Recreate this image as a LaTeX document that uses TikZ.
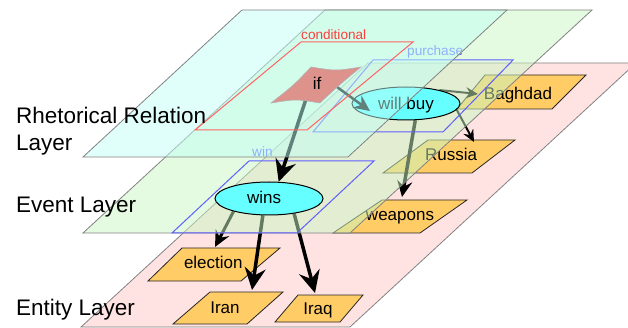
\documentclass[tikz,border=0pt]{standalone}
\usepackage{fontspec}
\setmainfont{Liberation Sans}
\usetikzlibrary{arrows.meta,calc,shapes.geometric}
\definecolor{cyanL}{RGB}{193,255,247}
\definecolor{greenL}{RGB}{201,247,195}
\definecolor{pinkL}{RGB}{255,227,227}
\definecolor{layerE}{RGB}{130,130,130}
\definecolor{orangeN}{RGB}{255,204,102}
\definecolor{evtN}{RGB}{102,255,255}
\definecolor{ifN}{RGB}{222,146,140}
\definecolor{relR}{RGB}{255,60,60}
\definecolor{relB}{RGB}{95,95,255}
\pgfdeclarelayer{entL}
\pgfdeclarelayer{entarrL}
\pgfdeclarelayer{grnL}
\pgfdeclarelayer{evtL}
\pgfdeclarelayer{cynL}
\pgfsetlayers{entL,entarrL,grnL,evtL,cynL,main}
\begin{document}
\begin{tikzpicture}[x=1pt,y=-1pt,
  layerbox/.style={draw=layerE, line width=0.8pt},
  entbox/.style={fill=orangeN, draw=black!85, line width=0.8pt},
  evtnode/.style={ellipse, fill=evtN, draw=black, line width=1pt,
    minimum width=108pt, minimum height=33pt, inner sep=0pt},
  nodetext/.style={font=\fontsize{17}{20}\selectfont, anchor=base, inner sep=0pt},
  biglabel/.style={font=\fontsize{22.5}{26}\selectfont, anchor=base west, inner sep=0pt},
  rellabel/.style={font=\fontsize{13.6}{16}\selectfont, anchor=base west, inner sep=0pt},
  relbox/.style={line width=1pt},
  conn/.style={draw=black, line width=#1},
  tipS/.style={-{Stealth[length=12pt,width=11pt,inset=4pt]}},
  tipM/.style={-{Stealth[length=16pt,width=15pt,inset=5.5pt]}},
  tipL/.style={-{Stealth[length=22pt,width=21pt,inset=7.5pt]}},
]
\useasboundingbox (0,0) rectangle (628,328);

% ---------- event nodes and relation boxes of the event layer ----------
\begin{pgfonlayer}{evtL}
  \draw[relbox, draw=relB] (249,161) -- (374,161) -- (297,233) -- (172,233) -- cycle;
  \node[rellabel, text=relB] (winL) at (252,156.5) {win};
  \draw[relbox, draw=relB] (373,60) -- (513,60) -- (443,132) -- (313,132) -- cycle;
  \node[rellabel, text=relB] (purchaseL) at (407,56) {purchase};
  \node[evtnode] (wins) at (269,198.5) {};
  \node[evtnode] (willbuy) at (406,103.5) {};
  \node[nodetext] (winsT) at (264,203.5) {wins};
  \node[nodetext] (willbuyT) at (406,109.5) {will buy};
\end{pgfonlayer}

% ---------- entity layer ----------
\begin{pgfonlayer}{entL}
  \path[layerbox, fill=pinkL] (368,63) -- (636,63) -- (350,327) -- (81,327) -- cycle;
  \path[entbox] (485,75) -- (586,75) -- (552,109) -- (457,109) -- cycle;
  \node[nodetext] (baghdad) at (518,99.3) {Baghdad};
  \path[entbox] (428,140) -- (515,140) -- (472,173) -- (383,173) -- cycle;
  \node[nodetext] (russia) at (451,160.7) {Russia};
  \path[entbox] (382,200) -- (467,200) -- (420,233) -- (333,233) -- cycle;
  \node[nodetext] (weapons) at (400,220.7) {weapons};
  \path[entbox] (182,248) -- (280,248) -- (241,281) -- (148,281) -- cycle;
  \node[nodetext] (election) at (213.3,268.3) {election};
  \path[entbox] (210,292) -- (283,292) -- (247,324) -- (173,324) -- cycle;
  \node[nodetext] (iran) at (225,313.5) {Iran};
  \path[entbox] (298,295) -- (363,295) -- (340,322) -- (275,322) -- cycle;
  \node[nodetext] (iraq) at (318,314) {Iraq};
\end{pgfonlayer}

% arrow ends
\coordinate (bagIn) at (478,94);
\coordinate (rusIn) at (474,142);
\coordinate (weaIn) at (402,197);
\coordinate (eleIn) at (215,247);
\coordinate (iranIn) at (252,290);
\coordinate (iraqIn) at (315,293);
\coordinate (wbIn) at (370,111);
\coordinate (ifOut) at (308,93);
\coordinate (ifOut2) at (326,79);

% ---------- arrows from events to entities ----------
\begin{pgfonlayer}{entarrL}
  \draw[conn=2pt, tipS] (willbuy.22) -- (bagIn);
  \draw[conn=2pt, tipS] (willbuy.-7) -- (rusIn);
  \draw[conn=3.5pt, tipM] (willbuy.299) -- (weaIn);
  \draw[conn=3pt, tipM] (wins.200) -- (eleIn);
  \draw[conn=3.5pt, tipL] (wins.250) -- (iranIn);
  \draw[conn=3.5pt, tipL] (wins.329) -- (iraqIn);
\end{pgfonlayer}

% ---------- event layer ----------
\begin{pgfonlayer}{grnL}
  \path[layerbox, fill=greenL, fill opacity=0.5] (325,10) -- (592,10) -- (350,233) -- (83,233) -- cycle;
\end{pgfonlayer}

% ---------- rhetorical layer ----------
\begin{pgfonlayer}{cynL}
  \path[layerbox, fill=cyanL, fill opacity=0.5] (242,10) -- (507,10) -- (348,157) -- (83,157) -- cycle;
\end{pgfonlayer}

\draw[relbox, draw=relR!80] (301,42) -- (413,42) -- (307,130) -- (195,130) -- cycle;
\node[rellabel, text=relR] (conditionalL) at (301,40) {conditional};
\path[fill=ifN, draw=black!30, line width=0.6pt]
  (311,67) .. controls (336,71) .. (361,67)
  .. controls (338,86) .. (320,103)
  .. controls (296,99) .. (271,103)
  .. controls (294,85) .. (311,67) -- cycle;
\node[nodetext] (if) at (317,90) {if};

% arrows from the rhetorical relation (under the cyan layer)
\begin{pgfonlayer}{evtL}
  \draw[conn=3.5pt, tipL] (ifOut) -- (wins.60);
  \draw[conn=2.5pt, tipM] (ifOut2) -- (wbIn);
\end{pgfonlayer}

\node[biglabel] (rhetL) at (16,124) {Rhetorical Relation};
\node[biglabel] (rhetL2) at (16,151) {Layer};
\node[biglabel] (eventL) at (16,212.7) {Event Layer};
\node[biglabel] (entityL) at (16,315) {Entity Layer};
\end{tikzpicture}
\end{document}
